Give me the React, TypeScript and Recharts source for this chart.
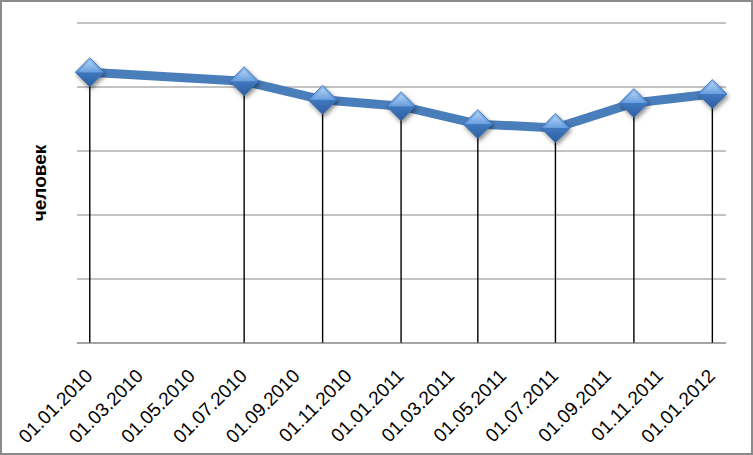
import React from "react";
import {
  LineChart,
  Line,
  XAxis,
  YAxis,
  CartesianGrid,
  ReferenceLine,
} from "recharts";

const pointDates = [
  "2010-01-01",
  "2010-07-01",
  "2010-10-01",
  "2011-01-01",
  "2011-04-01",
  "2011-07-01",
  "2011-10-01",
  "2012-01-01",
];
const pointValues = [423, 409, 380, 370, 342, 336, 375, 389];

const tickDates = [
  "2010-01-01",
  "2010-03-01",
  "2010-05-01",
  "2010-07-01",
  "2010-09-01",
  "2010-11-01",
  "2011-01-01",
  "2011-03-01",
  "2011-05-01",
  "2011-07-01",
  "2011-09-01",
  "2011-11-01",
  "2012-01-01",
];
const yTicks = [0, 100, 200, 300, 400, 500];
const yLabel = "человек";

const DAY = 86400000;
const ts = (d: string) => Date.parse(d + "T00:00:00Z");

const data = pointDates.map((d, i) => ({ t: ts(d), value: pointValues[i] }));
const xTicks = tickDates.map(ts);
const xDomain = [xTicks[0] - 15 * DAY, xTicks[xTicks.length - 1] + 16 * DAY];

const fmt = (t: number) => {
  const d = new Date(t);
  const dd = String(d.getUTCDate()).padStart(2, "0");
  const mm = String(d.getUTCMonth() + 1).padStart(2, "0");
  return `${dd}.${mm}.${d.getUTCFullYear()}`;
};

const FONT = "'Liberation Sans', Arial, sans-serif";

function DateTick(props: any) {
  const { x, y, payload } = props;
  const px = x + 4;
  const py = y + 26;
  return (
    <text
      x={px}
      y={py}
      textAnchor="end"
      transform={`rotate(-45 ${px} ${py})`}
      fontFamily={FONT}
      fontSize={19}
      fill="#000"
    >
      {fmt(payload.value)}
    </text>
  );
}

function Diamond(props: any) {
  const { cx, cy, index } = props;
  if (cx == null || cy == null) return null;
  const r = 14.5;
  const pts = `${cx},${cy - r} ${cx + r},${cy} ${cx},${cy + r} ${cx - r},${cy}`;
  return (
    <g key={`d-${index}`}>
      <polygon points={pts} fill="url(#diamondFill)" stroke="#3a6cab" strokeWidth={0.8} filter="url(#diamondShadow)" />
      <polygon
        points={`${cx},${cy - r + 3} ${cx + r - 3},${cy} ${cx - r + 3},${cy}`}
        fill="url(#diamondTop)"
        opacity={0.7}
      />
    </g>
  );
}

export default function App() {
  return (
    <div style={{ position: "absolute", left: 0, top: 0, width: 753, height: 455 }}>
      <div
        style={{
          position: "absolute",
          left: 0,
          top: 0,
          width: 753,
          height: 455,
          boxSizing: "border-box",
          border: "2px solid #8a8a8a",
          background: "#fff",
        }}
      />
      <div style={{ position: "absolute", left: 0, top: 0 }}>
        <LineChart
          width={753}
          height={455}
          data={data}
          margin={{ top: 23, right: 27, left: 0, bottom: 0 }}
        >
          <defs>
            <linearGradient id="diamondFill" x1="0" y1="0" x2="0" y2="1">
              <stop offset="0%" stopColor="#8fbdf0" />
              <stop offset="48%" stopColor="#5b94d8" />
              <stop offset="52%" stopColor="#3f77bf" />
              <stop offset="100%" stopColor="#2d5f9f" />
            </linearGradient>
            <linearGradient id="diamondTop" x1="0" y1="0" x2="0" y2="1">
              <stop offset="0%" stopColor="#c4ddf8" />
              <stop offset="100%" stopColor="#6ea3e2" />
            </linearGradient>
            <filter id="diamondShadow" x="-50%" y="-50%" width="200%" height="200%">
              <feDropShadow dx="1.5" dy="2.5" stdDeviation="2" floodColor="#000" floodOpacity="0.45" />
            </filter>
          </defs>
          <CartesianGrid vertical={false} stroke="#868686" strokeWidth={1} />
          <XAxis
            dataKey="t"
            type="number"
            scale="time"
            domain={xDomain}
            ticks={xTicks}
            interval={0}
            tick={<DateTick />}
            tickLine={false}
            axisLine={{ stroke: "#868686" }}
            height={112}
          />
          <YAxis
            type="number"
            domain={[0, 500]}
            ticks={yTicks}
            interval={0}
            width={77}
            tick={() => <g />}
            tickLine={false}
            axisLine={false}
            label={{
              content: (p: any) => {
                const vb = p.viewBox;
                const lx = 46;
                const ly = vb.y + vb.height / 2;
                return (
                  <text
                    x={lx}
                    y={ly}
                    textAnchor="middle"
                    transform={`rotate(-90 ${lx} ${ly})`}
                    fontFamily={FONT}
                    fontWeight="bold"
                    fontSize={19}
                    fill="#000"
                  >
                    {yLabel}
                  </text>
                );
              },
            }}
          />
          <Line
            type="linear"
            dataKey="value"
            stroke="#4a7ebb"
            strokeWidth={9}
            dot={<Diamond />}
            activeDot={false}
            isAnimationActive={false}
          />
          {data.map((d, i) => (
            <ReferenceLine
              key={i}
              segment={[
                { x: d.t, y: 0 },
                { x: d.t, y: d.value },
              ]}
              stroke="#000"
              strokeWidth={1.4}
            />
          ))}
        </LineChart>
      </div>
    </div>
  );
}
